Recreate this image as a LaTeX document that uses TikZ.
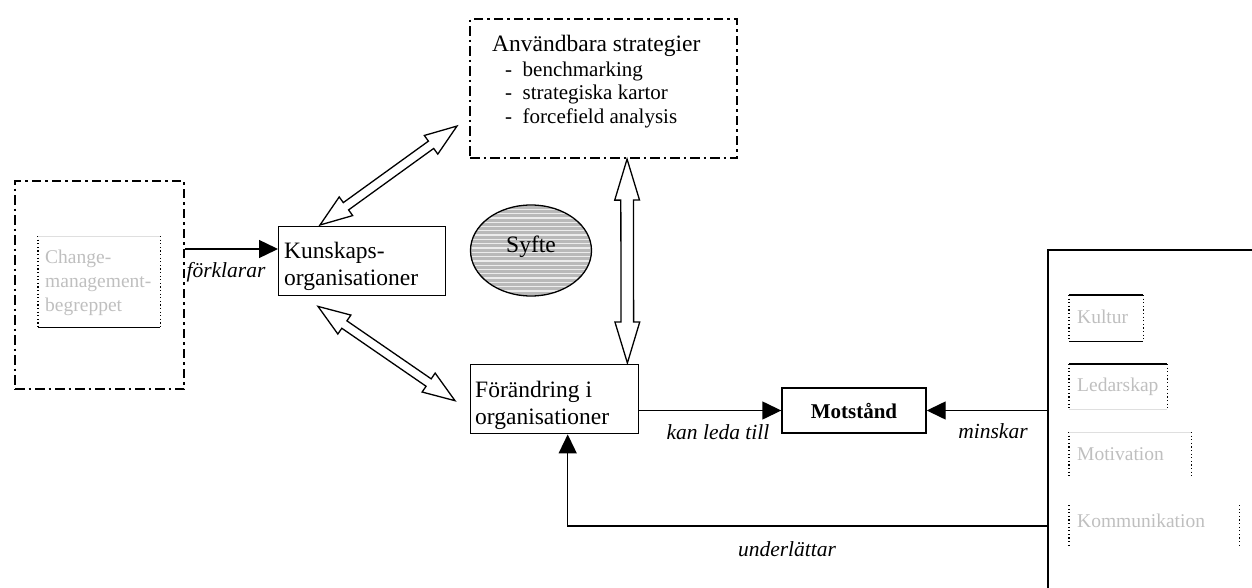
\documentclass[tikz,border=0pt]{standalone}
\usepackage{fontspec}
\setmainfont{Liberation Serif}
\usetikzlibrary{arrows.meta,calc}
\newcommand\fsz[2]{\fontsize{#1pt}{#2pt}\selectfont}

% hollow double-headed block arrow between two points
% #1 from, #2 to, #3 half shaft width, #4 half head width, #5 head length
\newcommand\hollowarrow[5]{%
  \draw[hollow] let \p1=#1, \p2=#2,
      \n1={atan2(\y2-\y1,\x2-\x1)}, \n2={veclen(\x2-\x1,\y2-\y1)} in
    [shift={(\p1)}, rotate=\n1]
    (0,0) -- (#5,#4) -- (#5,#3) -- (\n2-#5,#3) -- (\n2-#5,#4) -- (\n2,0)
    -- (\n2-#5,-#4) -- (\n2-#5,-#3) -- (#5,-#3) -- (#5,-#4) -- cycle;}

\tikzset{
  box/.style={draw, line width=1.4pt, inner sep=0pt, rectangle},
  dashdotbox/.style={draw, line width=2.1pt, inner sep=0pt, rectangle,
    dash pattern=on 9.5pt off 4pt on 2.5pt off 4pt},
  plain/.style={inner sep=0pt, minimum width=#1, rectangle},
  main/.style={font=\fsz{23.5}{27}, inner sep=0pt, anchor=base west},
  item/.style={font=\fsz{21}{24}, inner sep=0pt, anchor=base west},
  rel/.style={font=\fsz{21.5}{24}\itshape, inner sep=0pt, anchor=base},
  arr/.style={line width=1.4pt, -{Triangle[length=19pt,width=18pt]}},
  hollow/.style={line width=1.3pt, fill=white, line join=miter},
  faint/.style={font=\fsz{19.5}{23}, text=gray!50, inner sep=0pt, anchor=base west},
  dotside/.style={line width=1.2pt, dash pattern=on 1.2pt off 2.4pt},
  solidline/.style={line width=1.2pt},
  paleline/.style={line width=1pt, gray!25},
}

\begin{document}
\begin{tikzpicture}[x=1pt, y=-1pt]
\useasboundingbox (0,0) rectangle (1252,588);
\clip (0,0) rectangle (1252,588);

% ---- left frame with the concept box
\node[dashdotbox, minimum width=169pt, minimum height=208pt, anchor=north west] (cm) at (14,180) {};
\node[inner sep=0pt, minimum width=122pt, minimum height=91pt, anchor=north west] (cmIn) at (38,236) {};
\draw[dotside] (cmIn.north west) -- (cmIn.south west) (cmIn.north east) -- (cmIn.south east);
\draw[paleline] (cmIn.north west) -- (cmIn.north east);
\draw[solidline] (cmIn.south west) -- (cmIn.south east);
\node[faint] (cmT1) at (45,263) {Change-};
\node[faint] (cmT2) at (45,287) {management-};
\node[faint] (cmT3) at (45,311) {begreppet};

% ---- knowledge organisations
\node[box, minimum width=167pt, minimum height=69pt, anchor=north west] (kun) at (278,226) {};
\node[main] (kunA) at (284,258) {Kunskaps-};
\node[main] (kunB) at (284,285) {organisationer};

% ---- strategies
\node[dashdotbox, minimum width=267pt, minimum height=139pt, anchor=north west] (strat) at (469,18) {};
\node[main] (stratH) at (492,52) {Användbara strategier};
\node[item] (strat1) at (505,77) {-\enspace benchmarking};
\node[item] (strat2) at (505,100) {-\enspace strategiska kartor};
\node[item] (strat3) at (505,124) {-\enspace forcefield analysis};

% ---- purpose ellipse with horizontal hatching
\begin{scope}
  \clip (531,250.5) ellipse [x radius=60.5, y radius=45.5];
  \fill[gray!55] (465,200) rectangle (597,300);
  \foreach \k in {0,...,23} \draw[white!85!gray, line width=1.3pt] (465,{205+\k*4.3}) -- (597,{205+\k*4.3});
\end{scope}
\draw[line width=1.3pt] (531,250.5) ellipse [x radius=60.5, y radius=45.5];
\node[font=\fsz{23.5}{27}, inner sep=0pt] (syfte) at (531,247) {Syfte};

% ---- change in organisations
\node[box, minimum width=168pt, minimum height=69pt, anchor=north west] (fora) at (470,364) {};
\node[main] (foraA) at (475,397) {Förändring i};
\node[main] (foraB) at (475,424) {organisationer};

% ---- resistance
\node[box, minimum width=144pt, minimum height=45pt, font=\fsz{21}{24}\bfseries] (mot) at (854,410.5) {Motstånd};

% ---- factors frame on the right
\node[draw, line width=2.2pt, inner sep=0pt, minimum width=260pt, minimum height=400pt, anchor=north west] (fak) at (1047,249) {};
\node[plain=74pt, minimum height=46pt, anchor=north west] (f1) at (1069,295) {};
\node[plain=98pt, minimum height=45pt, anchor=north west] (f2) at (1069,364) {};
\node[plain=122pt, minimum height=46pt, anchor=north west] (f3) at (1069,432) {};
\node[plain=170pt, minimum height=41pt, anchor=north west] (f4) at (1069,505) {};
\foreach \f in {f1,f2,f3,f4}
  \draw[dotside] (\f.north west) -- (\f.south west) (\f.north east) -- (\f.south east);
\draw[solidline] (f1.north west) -- (f1.north east) (f1.south west) -- (f1.south east)
                 (f2.north west) -- (f2.north east);
\draw[paleline] (f2.south west) -- (f2.south east) (f3.north west) -- (f3.north east);
\node[faint] (f1T) at (1077,323) {Kultur};
\node[faint] (f2T) at (1077,391) {Ledarskap};
\node[faint] (f3T) at (1077,460) {Motivation};
\node[faint] (f4T) at (1077,527) {Kommunikation};

% ---- connectors
\draw[arr] (cm.east |- 0,249) -- (kun.west |- 0,249);
\node[rel] (lblF) at (226,277) {förklarar};

\hollowarrow{($(kun.north west)+(42,-1)$)}{($(strat.west)+(-12,37.5)$)}{4.5}{11.5}{32}
\hollowarrow{($(kun.south west)+(40,10)$)}{($(fora.west)+(-15,1.5)$)}{4.5}{11.5}{32}
\hollowarrow{($(strat.south)+(23.5,0)$)}{($(fora.north east)+(-12,-1)$)}{6.3}{12.4}{41}

\draw[arr] (fora.east |- mot.west) -- (mot.west);
\node[rel] (lblK) at (718,439) {kan leda till};

\draw[arr] (fak.west |- mot.east) -- (mot.east);
\node[rel] (lblM) at (993,438) {minskar};

\draw[arr] (fak.west |- 0,526) -| ($(fora.south)+(13,0)$);
\node[rel] (lblU) at (787,556) {underlättar};
\end{tikzpicture}
\end{document}
